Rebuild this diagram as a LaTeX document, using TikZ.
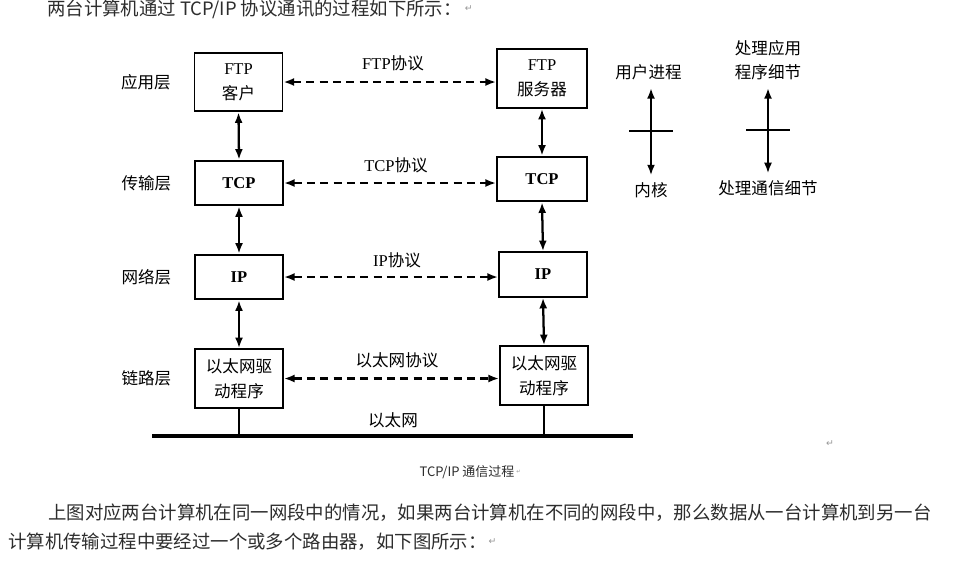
\documentclass[tikz,border=0pt]{standalone}
\usepackage{fontspec}
\setmainfont{Liberation Serif}
\newfontfamily\cjk{Noto Sans CJK SC}
\newfontfamily\markfont{DejaVu Sans}
\usetikzlibrary{arrows.meta, positioning}
\definecolor{docgray}{RGB}{45, 45, 45}
\definecolor{markgray}{RGB}{150, 150, 150}
\newcommand{\zh}[1]{{\cjk #1}}
\newcommand{\pmark}{{\markfont\textcolor{markgray}{↵}}}

\begin{document}
\begin{tikzpicture}[x=0.75pt, y=-0.75pt,
    every node/.style={font=\fontsize{12.4}{18.75}\selectfont, inner sep=0pt},
    box/.style={draw, line width=1.4pt, align=center, minimum width=66pt},
    tallbox/.style={box, minimum height=44pt},
    flatbox/.style={box, minimum height=33.5pt},
    peer/.style={{Latex[length=8pt,width=6pt]}-{Latex[length=8pt,width=6pt]}, line width=1.7pt, dash pattern=on 6pt off 4pt},
    stack/.style={{Latex[length=8pt,width=6pt]}-{Latex[length=8pt,width=6pt]}, line width=1.7pt},
    doc/.style={font=\cjk\fontsize{13.8}{20}\selectfont, text=docgray},
    retmark/.style={font=\fontsize{7}{8}\selectfont}]
    \useasboundingbox (0,0) rectangle (977,583);
    \clip (0,0) rectangle (977,583);
    \fill[white] (0,0) rectangle (977,583);

    % Document text
    \node[doc, anchor=base west] (intro) at (47,15) {两台计算机通过 TCP/IP 协议通讯的过程如下所示：};
    \node[retmark, right=2pt of intro] (introend) {\pmark};
    \node[font=\cjk\fontsize{9.75}{12}\selectfont, text=docgray] (caption) at (467,472) {TCP/IP 通信过程};
    \node[retmark, font=\fontsize{4}{5}\selectfont, right=1pt of caption] (capend) {\pmark};
    \node[retmark] (figend) at (830,444) {\pmark};
    \node[doc, anchor=west] (line1) at (48,513) {上图对应两台计算机在同一网段中的情况，如果两台计算机在不同的网段中，那么数据从一台计算机到另一台};
    \node[doc, anchor=west] (line2) at (8,542) {计算机传输过程中要经过一个或多个路由器，如下图所示：};
    \node[retmark, right=1pt of line2] (line2end) {\pmark};

    % Client stack
    \node[tallbox] (ftpc) at (238.5,82) {FTP\\\zh{客户}};
    \node[flatbox] (tcpc) at (239,183) {\bfseries TCP};
    \node[flatbox] (ipc) at (239,277) {\bfseries IP};
    \node[tallbox] (ethc) at (239,378.5) {\zh{以太网驱}\\\zh{动程序}};

    % Server stack
    \node[tallbox, minimum width=67.5pt] (ftps) at (542,78.5) {FTP\\\zh{服务器}};
    \node[flatbox, minimum width=67.5pt] (tcps) at (542,179) {\bfseries TCP};
    \node[flatbox] (ips) at (543,274.5) {\bfseries IP};
    \node[tallbox] (eths) at (544,375.5) {\zh{以太网驱}\\\zh{动程序}};

    % Layer names
    \node[left=17pt of ftpc] (app) {\zh{应用层}};
    \node[left=17pt of tcpc] (trans) {\zh{传输层}};
    \node[left=17pt of ipc] (net) {\zh{网络层}};
    \node[left=17pt of ethc] (link) {\zh{链路层}};

    % Peer protocols
    \draw[peer] (ftpc.east) -- (ftpc.east -| ftps.west);
    \draw[peer] (tcpc.east) -- (tcpc.east -| tcps.west);
    \draw[peer] (ipc.east) -- (ipc.east -| ips.west);
    \draw[peer] (ethc.east) -- (ethc.east -| eths.west);
    \node (ftpp) at (393,63) {FTP\zh{协议}};
    \node (tcpp) at (396,165) {TCP\zh{协议}};
    \node (ipp) at (397,260) {IP\zh{协议}};
    \node (ethp) at (397,360) {\zh{以太网协议}};

    % Between layers
    \foreach \upper/\lower in {ftpc/tcpc, tcpc/ipc, ipc/ethc, ftps/tcps, tcps/ips, ips/eths}
        \draw[stack] (\upper.south) -- (\lower.north);

    % Ethernet
    \coordinate (busL) at (152,436);
    \coordinate (busR) at (633,436);
    \draw[line width=2.6pt] (busL) -- (busR);
    \draw[line width=1.1pt] (ethc.south) -- (ethc.south |- busL);
    \draw[line width=1.1pt] (eths.south) -- (eths.south |- busL);
    \node (ether) at (393,420) {\zh{以太网}};

    % User / kernel
    \node (user) at (648.5,72) {\zh{用户进程}};
    \node (kernel) at (651,190) {\zh{内核}};
    \draw[stack, shorten <=6pt, shorten >=5pt] (kernel.north |- user.south) -- (kernel.north)
        coordinate[pos=.5] (ukmid);
    \draw[line width=1.4pt] ([xshift=-16.5pt]ukmid) -- ([xshift=16.5pt]ukmid);

    \node[align=center, font=\cjk\fontsize{12.4}{18}\selectfont] (appdet) at (768,60) {处理应用\\程序细节};
    \node (commdet) at (768,188) {\zh{处理通信细节}};
    \draw[stack, shorten <=6pt, shorten >=5pt] (commdet.north |- appdet.south) -- (commdet.north)
        coordinate[pos=.5] (acmid);
    \draw[line width=1.4pt] ([xshift=-16.5pt]acmid) -- ([xshift=16.5pt]acmid);
\end{tikzpicture}
\end{document}
